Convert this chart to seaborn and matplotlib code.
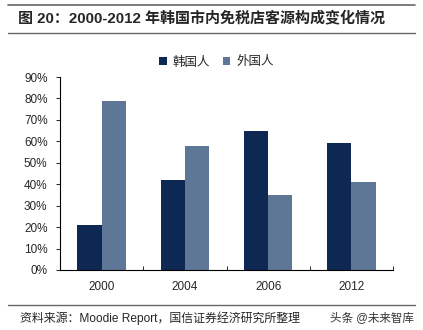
import matplotlib
matplotlib.use("Agg")
import matplotlib.pyplot as plt
import seaborn as sns
import pandas as pd
from matplotlib.lines import Line2D
from matplotlib.ticker import PercentFormatter

years = ["2000", "2004", "2006", "2012"]
korean = [0.21, 0.42, 0.65, 0.59]
foreign = [0.79, 0.58, 0.35, 0.41]
series_names = ["韩国人", "外国人"]
colors = ["#0c2853", "#5f7796"]

df = pd.DataFrame({
    "year": years * 2,
    "value": korean + foreign,
    "who": [series_names[0]] * 4 + [series_names[1]] * 4,
})

sns.set_style("white")
plt.rcParams["font.family"] = ["Liberation Sans", "Noto Sans CJK SC", "DejaVu Sans"]

fig = plt.figure(figsize=(4.23, 3.30), dpi=100)
ax = fig.add_axes([60/423, 1-270/330, (393-60)/423, (270-77)/330])

sns.barplot(data=df, x="year", y="value", hue="who", palette=colors,
            width=0.58, ax=ax, saturation=1, edgecolor="none", legend=True)

ax.set_ylim(0, 0.9)
ax.set_xlim(-0.5, 3.5)
ax.set_yticks([i/10 for i in range(10)])
ax.yaxis.set_major_formatter(PercentFormatter(1.0, decimals=0))
ax.set_xlabel("")
ax.set_ylabel("")
for s in ["top", "right"]:
    ax.spines[s].set_visible(False)
for s in ["left", "bottom"]:
    ax.spines[s].set_color("#000000")
    ax.spines[s].set_linewidth(0.8)
ax.tick_params(axis="y", direction="out", length=3, width=0.7, labelsize=8.5, pad=6, left=True)
ax.tick_params(axis="x", which="major", length=0, labelsize=8.5, pad=8)
ax.set_xticks([-0.5 + i for i in range(5)], minor=True)
ax.tick_params(axis="x", which="minor", direction="in", length=3, width=0.7, bottom=True)

leg = ax.legend(loc="upper center", bbox_to_anchor=(0.5 - 0.03, 1.165), ncol=2, frameon=False,
                fontsize=9, handlelength=0.6, handleheight=0.6, handletextpad=0.5,
                columnspacing=1.0)

# header / footer
fig.text(18/423, 1-18/330, "图 20：2000-2012 年韩国市内免税店客源构成变化情况",
         fontsize=10.8, fontweight="bold", va="center", ha="left")
for y, lw in [(5, 1.2), (33, 1.0), (305, 1.0)]:
    fig.add_artist(Line2D([8/423, 415/423], [1-y/330, 1-y/330], color="#666666", lw=lw))
fig.text(20/423, 1-318/330, "资料来源：Moodie Report，国信证券经济研究所整理",
         fontsize=8.6, va="center", ha="left")
fig.text(330/423, 1-318/330, "头条 @未来智库", fontsize=8.3, va="center", ha="left",
         color="#333333")

fig.savefig("out.png", dpi=100)
